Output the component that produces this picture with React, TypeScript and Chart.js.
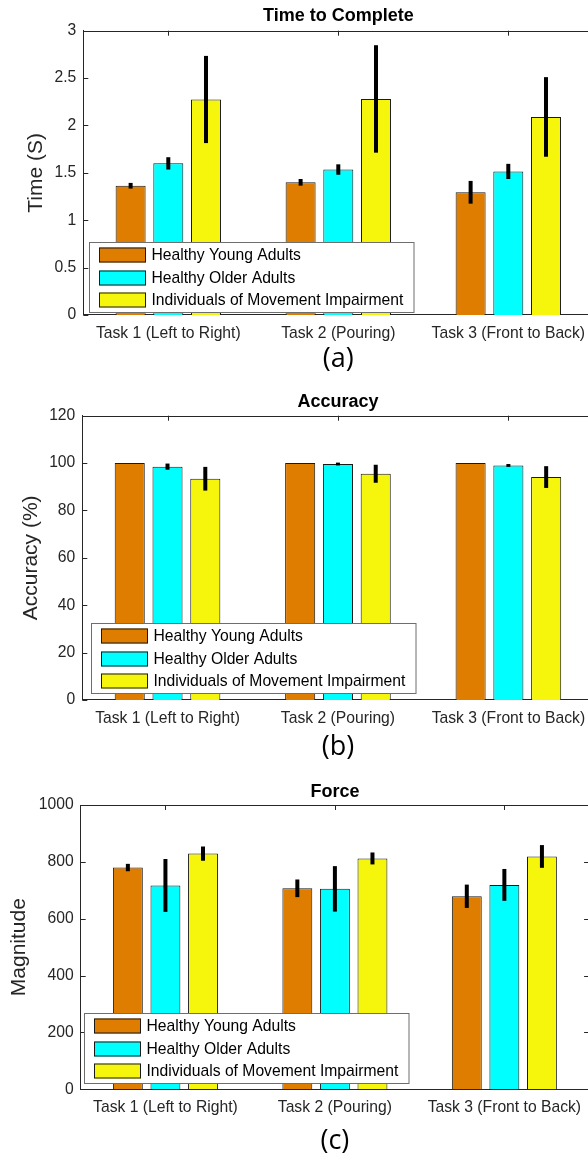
import React, { useEffect, useRef } from 'react';
import { Chart, registerables } from 'chart.js';

Chart.register(...registerables);

// ---------- data ----------
const categories = ['Task 1 (Left to Right)', 'Task 2 (Pouring)', 'Task 3 (Front to Back)'];
const groupLabels = ['Healthy Young Adults', 'Healthy Older Adults', 'Individuals of Movement Impairment'];
const groupColors = ['#DE7D00', '#00FFFF', '#F6F60C'];

// (a) Time to Complete (s)
const timeYoung = [1.364, 1.40, 1.295];
const timeOlder = [1.60, 1.535, 1.515];
const timeImpaired = [2.274, 2.28, 2.09];
const timeYoungErr = [0.03, 0.035, 0.12];
const timeOlderErr = [0.065, 0.055, 0.08];
const timeImpairedErr = [0.46, 0.567, 0.42];
const timeTicks = [0, 0.5, 1, 1.5, 2, 2.5, 3];

// (b) Accuracy (%)
const accYoung = [100, 100, 100];
const accOlder = [98.5, 99.6, 99.0];
const accImpaired = [93.4, 95.5, 94.1];
const accYoungErr = [0, 0, 0];
const accOlderErr = [1.3, 0.6, 0.6];
const accImpairedErr = [5.0, 3.8, 4.6];
const accTicks = [0, 20, 40, 60, 80, 100, 120];

// (c) Force magnitude
const forceYoung = [780, 707, 679];
const forceOlder = [717, 705, 719];
const forceImpaired = [829, 812, 819];
const forceYoungErr = [13, 31, 41];
const forceOlderErr = [93, 80, 56];
const forceImpairedErr = [25, 21, 40];
const forceTicks = [0, 200, 400, 600, 800, 1000];

// ---------- styling ----------
const FONT = '"Liberation Sans", Arial, Helvetica, sans-serif';
const SUBFONT = '"Open Sans", "Noto Sans", sans-serif';
const AXIS = '#262626';
const CANVAS_W = 600;
const X_H = 26;
const SUB_SIZE = 27;
const YLABEL_SIZE = 21;

type Panel = {
  top: number;
  height: number;
  left: number;
  right: number;
  areaTop: number;
  areaBottom: number;
  title: string;
  titleCenter: number;
  sub: string;
  subCenter: number;
  ylabel: string;
  ylabelCenter: number;
  ticks: number[];
  series: number[][];
  errors: number[][];
  legendDx: number;
  legendDy: number;
};

const panels: Panel[] = [
  {
    top: 0, height: 385, left: 83.3, right: 593.3, areaTop: 30.7, areaBottom: 315,
    title: 'Time to Complete', titleCenter: 16, sub: '(a)', subCenter: 359,
    ylabel: 'Time (S)', ylabelCenter: 36.5, ticks: timeTicks,
    series: [timeYoung, timeOlder, timeImpaired],
    errors: [timeYoungErr, timeOlderErr, timeImpairedErr],
    legendDx: 6, legendDy: 3.3,
  },
  {
    top: 385, height: 385, left: 82.3, right: 593.6, areaTop: 30.7, areaBottom: 315,
    title: 'Accuracy', titleCenter: 16.7, sub: '(b)', subCenter: 362,
    ylabel: 'Accuracy (%)', ylabelCenter: 31, ticks: accTicks,
    series: [accYoung, accOlder, accImpaired],
    errors: [accYoungErr, accOlderErr, accImpairedErr],
    legendDx: 8.4, legendDy: 7.3,
  },
  {
    top: 774, height: 386, left: 80.7, right: 589.1, areaTop: 31, areaBottom: 315.3,
    title: 'Force', titleCenter: 17.7, sub: '(c)', subCenter: 367.5,
    ylabel: 'Magnitude', ylabelCenter: 19, ticks: forceTicks,
    series: [forceYoung, forceOlder, forceImpaired],
    errors: [forceYoungErr, forceOlderErr, forceImpairedErr],
    legendDx: 3.6, legendDy: 6,
  },
];

// ---------- plugins ----------
const TICK_LEN = 5;

const framePlugin = {
  id: 'frame',
  beforeDatasetsDraw(chart: any) {
    const { ctx, chartArea, scales } = chart;
    const { left, top, right, bottom } = chartArea;
    const x = scales.x;
    const y = scales.y;
    ctx.save();
    ctx.strokeStyle = AXIS;
    ctx.lineWidth = 1;
    ctx.beginPath();
    ctx.moveTo(left, Math.round(top) + 0.5);
    ctx.lineTo(right, Math.round(top) + 0.5);
    ctx.moveTo(Math.round(right) - 0.5, top);
    ctx.lineTo(Math.round(right) - 0.5, bottom);
    y.ticks.forEach((t: any) => {
      const py = Math.round(y.getPixelForValue(t.value)) + 0.5;
      ctx.moveTo(left, py);
      ctx.lineTo(left + TICK_LEN, py);
      ctx.moveTo(right, py);
      ctx.lineTo(right - TICK_LEN, py);
    });
    x.ticks.forEach((_t: any, i: number) => {
      const px = Math.round(x.getPixelForTick(i)) + 0.5;
      ctx.moveTo(px, top);
      ctx.lineTo(px, top + TICK_LEN);
      ctx.moveTo(px, bottom);
      ctx.lineTo(px, bottom - TICK_LEN);
    });
    ctx.stroke();
    ctx.restore();
  },
};

const errorBarPlugin = {
  id: 'errorBars',
  afterDatasetsDraw(chart: any, _args: any, opts: any) {
    const { ctx } = chart;
    const y = chart.scales.y;
    const errs: number[][] = opts.errors || [];
    ctx.save();
    ctx.strokeStyle = '#000';
    ctx.lineWidth = 4;
    ctx.lineCap = 'butt';
    chart.data.datasets.forEach((ds: any, di: number) => {
      const meta = chart.getDatasetMeta(di);
      meta.data.forEach((bar: any, i: number) => {
        const e = errs[di] ? errs[di][i] : 0;
        if (!e) return;
        const v = ds.data[i];
        ctx.beginPath();
        ctx.moveTo(bar.x, y.getPixelForValue(v + e));
        ctx.lineTo(bar.x, y.getPixelForValue(v - e));
        ctx.stroke();
      });
    });
    ctx.restore();
  },
};

const boxLegendPlugin = {
  id: 'boxLegend',
  afterDraw(chart: any, _args: any, opts: any) {
    const { ctx, chartArea } = chart;
    const w = 324.5;
    const h = 70;
    const left = Math.round(chartArea.left + opts.dx);
    const top = Math.round(chartArea.bottom - opts.dy - h);
    ctx.save();
    ctx.fillStyle = '#ffffff';
    ctx.fillRect(left, top, w, h);
    ctx.strokeStyle = '#6e6e6e';
    ctx.lineWidth = 1;
    ctx.strokeRect(left + 0.5, top + 0.5, w, h);
    ctx.font = `15.7px ${FONT}`;
    ctx.textBaseline = 'middle';
    ctx.textAlign = 'left';
    chart.data.datasets.forEach((ds: any, i: number) => {
      const cy = Math.round(top + 13.3 + i * 22.3);
      ctx.fillStyle = ds.backgroundColor;
      ctx.fillRect(left + 10, cy - 7.5, 47, 15);
      ctx.strokeStyle = '#1a1a1a';
      ctx.strokeRect(left + 10.5, cy - 7, 46, 14);
      ctx.fillStyle = '#000';
      ctx.fillText(ds.label, left + 62.4, cy + 1);
    });
    ctx.restore();
  },
};

function makeConfig(p: Panel): any {
  const titleLine = 18 * 1.2;
  const titlePadTop = p.titleCenter - titleLine / 2;
  const titlePadBottom = p.areaTop - titlePadTop - titleLine;
  const subLine = SUB_SIZE * 1.2;
  const subPadTop = p.subCenter - (p.areaBottom + X_H) - subLine / 2;
  const padBottom = p.height - (p.areaBottom + X_H + subPadTop + subLine);
  const ylabelLine = YLABEL_SIZE * 1.2;
  return {
    type: 'bar',
    data: {
      labels: categories,
      datasets: p.series.map((s, i) => ({
        label: groupLabels[i],
        data: s,
        backgroundColor: groupColors[i],
        borderColor: '#1a1a1a',
        borderWidth: 1,
        categoryPercentage: 0.665,
        barPercentage: 0.796,
      })),
    },
    options: {
      animation: false,
      responsive: false,
      maintainAspectRatio: false,
      layout: { padding: { left: 0, top: 0, right: CANVAS_W - p.right, bottom: padBottom } },
      plugins: {
        legend: { display: false },
        tooltip: { enabled: false },
        title: {
          display: true,
          fullSize: false,
          text: p.title,
          color: '#000',
          font: { family: FONT, size: 18, weight: 'bold', lineHeight: 1.2 },
          padding: { top: titlePadTop, bottom: titlePadBottom },
        },
        subtitle: {
          display: true,
          fullSize: false,
          position: 'bottom',
          text: p.sub,
          color: '#000',
          font: { family: SUBFONT, size: SUB_SIZE, weight: 'normal', lineHeight: 1.2 },
          padding: { top: subPadTop, bottom: 0 },
        },
        errorBars: { errors: p.errors },
        boxLegend: { dx: p.legendDx, dy: p.legendDy },
      },
      scales: {
        x: {
          type: 'category',
          offset: true,
          grid: { display: false, drawTicks: false },
          border: { display: true, color: AXIS, width: 1 },
          ticks: {
            color: AXIS,
            font: { family: FONT, size: 15.7 },
            padding: 9,
            maxRotation: 0,
            minRotation: 0,
            autoSkip: false,
          },
          afterFit: (s: any) => { s.height = X_H; },
        },
        y: {
          min: p.ticks[0],
          max: p.ticks[p.ticks.length - 1],
          grid: { display: false, drawTicks: false },
          border: { display: true, color: AXIS, width: 1 },
          ticks: {
            color: AXIS,
            font: { family: FONT, size: 15.7 },
            padding: 7,
            callback: (v: any) => String(v),
          },
          afterBuildTicks: (s: any) => { s.ticks = p.ticks.map((v) => ({ value: v })); },
          afterFit: (s: any) => { s.width = p.left; },
          title: {
            display: true,
            text: p.ylabel,
            color: AXIS,
            font: { family: FONT, size: YLABEL_SIZE, lineHeight: 1.2 },
            padding: { top: p.ylabelCenter - ylabelLine / 2, bottom: 0 },
          },
        },
      },
    },
    plugins: [framePlugin, errorBarPlugin, boxLegendPlugin],
  };
}

function PanelChart({ panel }: { panel: Panel }) {
  const ref = useRef<HTMLCanvasElement | null>(null);
  useEffect(() => {
    if (!ref.current) return;
    const chart = new Chart(ref.current, makeConfig(panel));
    return () => chart.destroy();
  }, [panel]);
  return (
    <canvas
      ref={ref}
      width={CANVAS_W}
      height={panel.height}
      style={{ position: 'absolute', left: 0, top: panel.top, width: CANVAS_W, height: panel.height }}
    />
  );
}

export default function App() {
  return (
    <div
      style={{
        position: 'absolute',
        left: 0,
        top: 0,
        width: 588,
        height: 1156,
        overflow: 'hidden',
        background: '#ffffff',
      }}
    >
      {panels.map((p) => (
        <PanelChart key={p.sub} panel={p} />
      ))}
    </div>
  );
}
